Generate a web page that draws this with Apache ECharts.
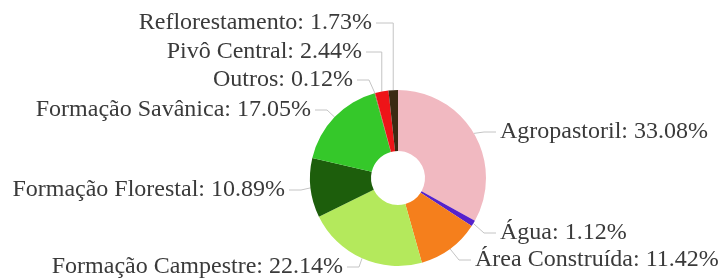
<!DOCTYPE html>
<html lang="pt">
<head>
    <meta charset="UTF-8">
    <title>Uso do solo</title>
    <script src="https://cdn.jsdelivr.net/npm/echarts@6/dist/echarts.min.js"></script>
    <style>
        body { margin: 0; background: #ffffff; }
        #pie { width: 722px; height: 280px; }
    </style>
</head>
<body>
<div id="pie"></div>
<script>
    // classes de uso do solo e percentuais
    var classes = ['Agropastoril', 'Água', 'Área Construída', 'Formação Campestre', 'Formação Florestal',
        'Formação Savânica', 'Outros', 'Pivô Central', 'Reflorestamento'];
    var percentuais = [33.08, 1.12, 11.42, 22.14, 10.89, 17.05, 0.12, 2.44, 1.73];
    var cores = ['#f1b9c1', '#5522cc', '#f57f1c', '#b4e95c', '#1d5e0c', '#35c82a', '#8a6a3a', '#ee1418', '#3b2a12'];

    // onde fica cada rotulo (x = inicio/fim do texto, y = meio da linha)
    var posRotulos = [
        { x: 500, y: 132, align: 'left' },
        { x: 500, y: 233, align: 'left' },
        { x: 475, y: 260, align: 'left' },
        { x: 343, y: 267, align: 'right' },
        { x: 285, y: 190, align: 'right' },
        { x: 311, y: 110, align: 'right' },
        { x: 353, y: 80, align: 'right' },
        { x: 362, y: 52, align: 'right', vertical: true },
        { x: 372, y: 23, align: 'right', vertical: true }
    ];

    var dados = [];
    for (var i = 0; i < classes.length; i++) {
        dados.push({ name: classes[i], value: percentuais[i], itemStyle: { color: cores[i] } });
    }

    var myChart = echarts.init(document.getElementById('pie'));
    var option = {
        animation: false,
        series: [{
            type: 'pie',
            center: [398, 178],
            radius: [27, 88],
            startAngle: 90,
            clockwise: true,
            avoidLabelOverlap: false,
            label: {
                formatter: '{b}: {c}%',
                fontFamily: 'Liberation Serif',
                fontSize: 24,
                color: '#3a3a3a'
            },
            labelLine: {
                length: 10,
                length2: 10,
                lineStyle: { color: '#c4c4c4', width: 1 }
            },
            labelLayout: function (p) {
                var pos = posRotulos[p.dataIndex];
                var ini = p.labelLinePoints[0];
                var dir = pos.align === 'left' ? 1 : -1;
                var fim = [pos.x - dir * 4, pos.y];
                var meio = pos.vertical ? [ini[0], pos.y] : [fim[0] + dir * 12 * -1, pos.y];
                return {
                    x: pos.x,
                    y: pos.y,
                    align: pos.align,
                    verticalAlign: 'middle',
                    labelLinePoints: [ini, meio, fim]
                };
            },
            data: dados
        }]
    };
    myChart.setOption(option);
</script>
</body>
</html>
